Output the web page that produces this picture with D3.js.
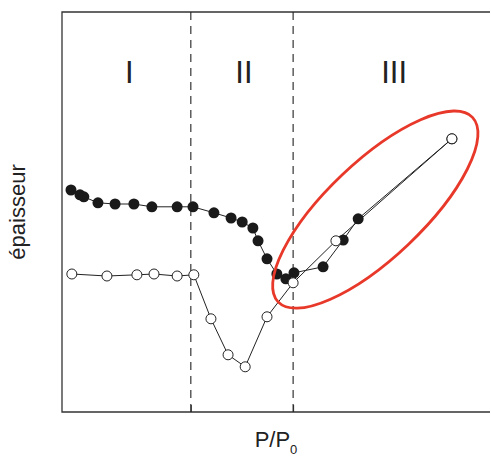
<!DOCTYPE html>
<html><head><meta charset="utf-8">
<script src="https://cdn.jsdelivr.net/npm/d3@7"></script>
<style>body{margin:0;background:#fff}svg{display:block}</style>
</head><body>
<svg id="c" width="491" height="456"></svg>
<script>
// Filled series (black dots)
const filledX = [2.1, 4.2, 5.1, 8.4, 12.4, 16.8, 21.0, 26.9, 30.6, 35.5, 39.5, 42.1, 44.6, 45.8, 47.9, 50.2, 52.3, 54.2, 61.0, 65.7, 69.2, 91.1];
const filledY = [55.5, 54.3, 53.8, 52.3, 52.0, 52.0, 51.3, 51.3, 51.3, 49.8, 48.5, 47.5, 46.0, 42.8, 38.3, 34.5, 33.3, 34.8, 36.3, 43.0, 48.3, 68.3];
// Open series (white dots)
const openX = [2.3, 10.5, 17.5, 21.5, 26.9, 30.8, 34.8, 38.8, 42.8, 47.9, 54.0, 64.0, 91.1];
const openY = [34.5, 34.0, 34.3, 34.5, 34.0, 34.3, 23.3, 14.3, 11.3, 23.8, 32.3, 42.8, 68.3];
// Region boundaries and labels
const boundaries = [30.1, 54.0];
const regionLabels = ["I", "II", "III"];
const regionLabelX = [15.7, 42.5, 77.6];
const regionLabelY = 82.3;
// Highlight ellipse centre (data units)
const ellipseCenter = [73.2, 50.6];

const svg = d3.select("#c");
const m = {l: 62, t: 12, r: 490, b: 412};
const x = d3.scaleLinear().domain([0, 100]).range([m.l, m.r]);
const y = d3.scaleLinear().domain([0, 100]).range([m.b, m.t]);
const font = "'Liberation Sans', Arial, Helvetica, sans-serif";

// frame: left, top, bottom
const axisColor = "#333";
svg.append("path")
  .attr("d", `M${m.r},${m.t}H${m.l}V${m.b}H${m.r}`)
  .attr("fill", "none").attr("stroke", axisColor).attr("stroke-width", 1.3);

// bottom ticks at boundaries
const xAxis = d3.axisBottom(x).tickValues(boundaries).tickSize(-7).tickFormat("");
const gx = svg.append("g").attr("transform", `translate(0,${m.b})`).call(xAxis);
gx.select(".domain").remove();
gx.selectAll("line").attr("stroke", axisColor).attr("stroke-width", 1);

// dashed boundaries
svg.selectAll(".bd").data(boundaries).enter().append("line")
  .attr("x1", d => x(d)).attr("x2", d => x(d))
  .attr("y1", m.t).attr("y2", m.b)
  .attr("stroke", "#222").attr("stroke-width", 1.1)
  .attr("stroke-dasharray", "8,6");

// region labels
svg.selectAll(".rl").data(regionLabels).enter().append("text")
  .attr("x", (d, i) => x(regionLabelX[i])).attr("y", y(regionLabelY))
  .attr("text-anchor", "middle").attr("font-family", font)
  .attr("font-size", 31).attr("fill", "#222").text(d => d);

const line = d3.line().x(d => x(d[0])).y(d => y(d[1]));
const filled = filledX.map((v, i) => [v, filledY[i]]);
const open = openX.map((v, i) => [v, openY[i]]);

svg.append("path").attr("d", line(filled)).attr("fill", "none")
  .attr("stroke", "#222").attr("stroke-width", 1);
svg.append("path").attr("d", line(open)).attr("fill", "none")
  .attr("stroke", "#222").attr("stroke-width", 1);

svg.selectAll(".fd").data(filled).enter().append("circle")
  .attr("cx", d => x(d[0])).attr("cy", d => y(d[1])).attr("r", 5.5)
  .attr("fill", "#1a1a1a");
svg.selectAll(".od").data(open).enter().append("circle")
  .attr("cx", d => x(d[0])).attr("cy", d => y(d[1])).attr("r", 5)
  .attr("fill", "#fff").attr("stroke", "#222").attr("stroke-width", 1);

// red ellipse
svg.append("ellipse")
  .attr("cx", 0).attr("cy", 0).attr("rx", 134).attr("ry", 48)
  .attr("transform", `translate(${x(ellipseCenter[0])},${y(ellipseCenter[1])}) rotate(-43.5)`)
  .attr("fill", "none").attr("stroke", "#e8382a").attr("stroke-width", 2.8);

// axis labels
svg.append("text")
  .attr("transform", `translate(25,${(m.t + m.b) / 2}) rotate(-90)`)
  .attr("text-anchor", "middle").attr("font-family", font)
  .attr("font-size", 22).attr("fill", "#222").text("épaisseur");

const xl = svg.append("text")
  .attr("x", 276).attr("y", 447)
  .attr("text-anchor", "middle").attr("font-family", font)
  .attr("font-size", 22).attr("fill", "#222");
xl.append("tspan").text("P/P");
xl.append("tspan").attr("dy", 7).attr("font-size", 13).text("0");
</script>
</body></html>
